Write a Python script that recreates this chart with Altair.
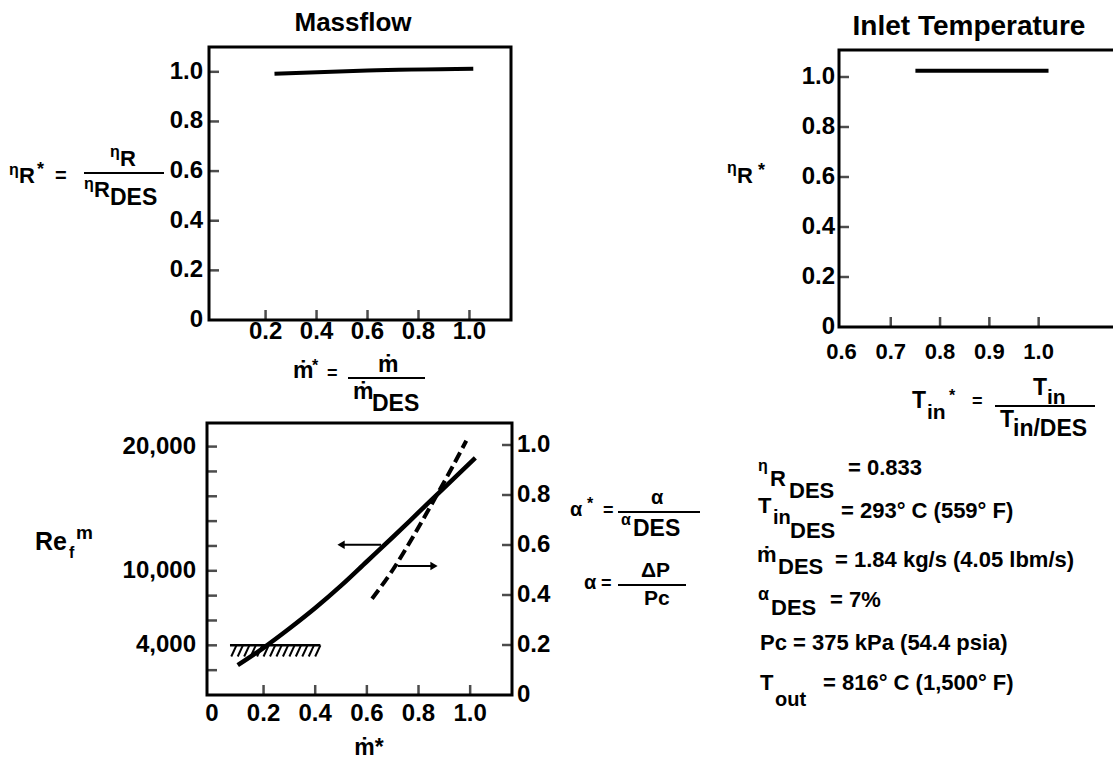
import altair as alt
import pandas as pd

FONT = "Liberation Sans"
W, H = 1113, 767

# ---------------- data ----------------
# Massflow panel: eta_R* vs m_dot*
MF_MDOT = [0.235, 0.6, 1.015]
MF_ETA = [0.992, 1.005, 1.012]
# Inlet temperature panel: eta_R* vs T_in*
IT_T = [0.75, 1.02]
IT_ETA = [1.025, 1.025]
# Bottom panel: Re_f^m (left axis) and alpha* (right axis) vs m_dot*
RE_MDOT = [0.10, 0.20, 0.30, 0.40, 0.50, 0.60, 0.70, 0.80, 0.90, 1.02]
RE_VAL = [2400, 3800, 5350, 7000, 8800, 10750, 12700, 14700, 16700, 19100]
AL_MDOT = [0.62, 0.70, 0.78, 0.86, 0.93, 0.985]
AL_VAL = [0.385, 0.50, 0.635, 0.78, 0.91, 1.017]
RE_LIMIT = 4000
RE_LIMIT_SPAN = [0.07, 0.42]
HATCH_X = [0.095, 0.12, 0.145, 0.17, 0.195, 0.22, 0.245, 0.27, 0.295, 0.32, 0.345, 0.37, 0.395, 0.42]
ARROW_RE = [0.655, 0.50, 12100]      # from, to (head), Re level
ARROW_AL = [0.72, 0.86, 0.516]       # from, to (head), alpha* level

# tick values and tick labels
MF_X_TICKS = [0.2, 0.4, 0.6, 0.8, 1.0]
MF_X_LABELS = ["0.2", "0.4", "0.6", "0.8", "1.0"]
ETA_TICKS = [0, 0.2, 0.4, 0.6, 0.8, 1.0]
ETA_LABELS = ["0", "0.2", "0.4", "0.6", "0.8", "1.0"]
ETA_MARKS = [0.2, 0.4, 0.6, 0.8, 1.0]
IT_X_TICKS = [0.6, 0.7, 0.8, 0.9, 1.0]
IT_X_LABELS = ["0.6", "0.7", "0.8", "0.9", "1.0"]
IT_X_MARKS = [0.7, 0.8, 0.9, 1.0]
BOT_X_TICKS = [0, 0.2, 0.4, 0.6, 0.8, 1.0]
BOT_X_LABELS = ["0", "0.2", "0.4", "0.6", "0.8", "1.0"]
BOT_X_MARKS = [0.2, 0.4, 0.6, 0.8, 1.0]
RE_TICKS = [4000, 10000, 20000]
RE_LABELS = ["4,000", "10,000", "20,000"]
RE_MARKS = [2000, 4000, 6000, 8000, 10000, 12000, 14000, 16000, 18000, 20000]
AL_TICKS = [0, 0.2, 0.4, 0.6, 0.8, 1.0]
AL_LABELS = ["0", "0.2", "0.4", "0.6", "0.8", "1.0"]
AL_MARKS = [0.2, 0.4, 0.6, 0.8, 1.0]

# ---------------- scales (domain -> pixel range on the page) ----------------
A_XD, A_YD = [-0.022, 1.163], [0, 1.10]
B_XD, B_YD = [0.595, 1.165], [0, 1.108]
C_XD, C_YLD, C_YRD = [-0.019, 1.162], [0, 21900], [0, 1.088]

SA_X = alt.Scale(domain=A_XD, range=[209, 511], nice=False, zero=False)
SA_Y = alt.Scale(domain=A_YD, range=[320, 47], nice=False, zero=False)
SB_X = alt.Scale(domain=B_XD, range=[839, 1120], nice=False, zero=False)
SB_Y = alt.Scale(domain=B_YD, range=[327, 50], nice=False, zero=False)
SC_X = alt.Scale(domain=C_XD, range=[207, 512], nice=False, zero=False)
SC_YL = alt.Scale(domain=C_YLD, range=[695, 423], nice=False, zero=False)
SC_YR = alt.Scale(domain=C_YRD, range=[695, 423], nice=False, zero=False)

ONE = pd.DataFrame({"k": [0]})
INK = "black"


def lbl(size=24):
    return dict(font=FONT, fontWeight="bold", fontSize=size, color=INK, baseline="middle")


def frame(sx, sy, xd, yd):
    return alt.Chart(ONE).mark_rect(filled=False, stroke=INK, strokeWidth=3).encode(
        x=alt.XDatum(xd[0], scale=sx, axis=None), x2=alt.X2Datum(xd[1]),
        y=alt.YDatum(yd[0], scale=sy, axis=None), y2=alt.Y2Datum(yd[1]))


def xticks(vals, sx, sy, y0):
    return alt.Chart(pd.DataFrame({"v": vals})).mark_tick(
        orient="vertical", size=10, thickness=2.5, yOffset=-5, color=INK).encode(
        x=alt.X("v:Q", scale=sx, axis=None), y=alt.YDatum(y0, scale=sy, axis=None))


def yticks(vals, sx, sy, x0, off):
    return alt.Chart(pd.DataFrame({"v": vals})).mark_tick(
        orient="horizontal", size=10, thickness=2.5, xOffset=off, color=INK).encode(
        y=alt.Y("v:Q", scale=sy, axis=None), x=alt.XDatum(x0, scale=sx, axis=None))


def xlabels(vals, labels, sx, sy, y0, dy, size=24):
    return alt.Chart(pd.DataFrame({"v": vals, "l": labels})).mark_text(
        align="center", dy=dy, **lbl(size)).encode(
        x=alt.X("v:Q", scale=sx, axis=None), y=alt.YDatum(y0, scale=sy, axis=None),
        text="l:N")


def ylabels(vals, labels, sx, sy, x0, dx, align="right", size=24):
    return alt.Chart(pd.DataFrame({"v": vals, "l": labels})).mark_text(
        align=align, dx=dx, **lbl(size)).encode(
        y=alt.Y("v:Q", scale=sy, axis=None), x=alt.XDatum(x0, scale=sx, axis=None),
        text="l:N")


# ---------------- Panel A: Massflow ----------------
a_line = alt.Chart(pd.DataFrame({"m": MF_MDOT, "e": MF_ETA})).mark_line(
    color=INK, strokeWidth=4, interpolate="monotone").encode(
    x=alt.X("m:Q", scale=SA_X, axis=None),
    y=alt.Y("e:Q", scale=SA_Y, axis=None))
panelA = alt.layer(frame(SA_X, SA_Y, A_XD, A_YD), a_line,
                   xticks(MF_X_TICKS, SA_X, SA_Y, 0),
                   yticks(ETA_MARKS, SA_X, SA_Y, A_XD[0], 5),
                   xlabels(MF_X_TICKS, MF_X_LABELS, SA_X, SA_Y, 0, 12),
                   ylabels(ETA_TICKS, ETA_LABELS, SA_X, SA_Y, A_XD[0], -6))

# ---------------- Panel B: Inlet Temperature ----------------
b_line = alt.Chart(pd.DataFrame({"t": IT_T, "e": IT_ETA})).mark_line(
    color=INK, strokeWidth=4).encode(
    x=alt.X("t:Q", scale=SB_X, axis=None),
    y=alt.Y("e:Q", scale=SB_Y, axis=None))
panelB = alt.layer(frame(SB_X, SB_Y, B_XD, B_YD), b_line,
                   xticks(IT_X_MARKS, SB_X, SB_Y, 0),
                   yticks(ETA_MARKS, SB_X, SB_Y, B_XD[0], 5),
                   xlabels(IT_X_TICKS, IT_X_LABELS, SB_X, SB_Y, 0, 25, 22),
                   ylabels(ETA_TICKS, ETA_LABELS, SB_X, SB_Y, B_XD[0], -4))

# ---------------- Panel C: Reynolds number / pressure drop ----------------
c_re = alt.Chart(pd.DataFrame({"m": RE_MDOT, "re": RE_VAL})).mark_line(
    color=INK, strokeWidth=4.5, interpolate="monotone").encode(
    x=alt.X("m:Q", scale=SC_X, axis=None),
    y=alt.Y("re:Q", scale=SC_YL, axis=None))
c_limit = alt.Chart(ONE).mark_rule(color=INK, strokeWidth=2.5).encode(
    x=alt.XDatum(RE_LIMIT_SPAN[0], scale=SC_X, axis=None), x2=alt.X2Datum(RE_LIMIT_SPAN[1]),
    y=alt.YDatum(RE_LIMIT, scale=SC_YL, axis=None))
c_hatch = alt.Chart(pd.DataFrame({"hx": HATCH_X})).transform_calculate(
    hx2="datum.hx - 0.02").mark_rule(color=INK, strokeWidth=2).encode(
    x=alt.X("hx:Q", scale=SC_X, axis=None), x2=alt.X2("hx2:Q"),
    y=alt.YDatum(RE_LIMIT, scale=SC_YL, axis=None), y2=alt.Y2Datum(RE_LIMIT - 900))
c_arr1 = alt.Chart(ONE).mark_rule(color=INK, strokeWidth=2).encode(
    x=alt.XDatum(ARROW_RE[0], scale=SC_X, axis=None), x2=alt.X2Datum(ARROW_RE[1]),
    y=alt.YDatum(ARROW_RE[2], scale=SC_YL, axis=None))
c_head1 = alt.Chart(ONE).mark_point(shape="triangle-left", filled=True, size=70, color=INK, opacity=1).encode(
    x=alt.XDatum(ARROW_RE[1], scale=SC_X, axis=None),
    y=alt.YDatum(ARROW_RE[2], scale=SC_YL, axis=None))
c_left = alt.layer(frame(SC_X, SC_YL, C_XD, C_YLD), c_re, c_limit, c_hatch, c_arr1, c_head1,
                   xticks(BOT_X_MARKS, SC_X, SC_YL, 0),
                   yticks(RE_MARKS, SC_X, SC_YL, C_XD[0], 5),
                   xlabels(BOT_X_TICKS, BOT_X_LABELS, SC_X, SC_YL, 0, 19),
                   ylabels(RE_TICKS, RE_LABELS, SC_X, SC_YL, C_XD[0], -11))

c_al = alt.Chart(pd.DataFrame({"m": AL_MDOT, "a": AL_VAL})).mark_line(
    color=INK, strokeWidth=4, strokeDash=[11, 5], interpolate="monotone").encode(
    x=alt.X("m:Q", scale=SC_X, axis=None),
    y=alt.Y("a:Q", scale=SC_YR, axis=None))
c_arr2 = alt.Chart(ONE).mark_rule(color=INK, strokeWidth=2).encode(
    x=alt.XDatum(ARROW_AL[0], scale=SC_X, axis=None), x2=alt.X2Datum(ARROW_AL[1]),
    y=alt.YDatum(ARROW_AL[2], scale=SC_YR, axis=None))
c_head2 = alt.Chart(ONE).mark_point(shape="triangle-right", filled=True, size=70, color=INK, opacity=1).encode(
    x=alt.XDatum(ARROW_AL[1], scale=SC_X, axis=None),
    y=alt.YDatum(ARROW_AL[2], scale=SC_YR, axis=None))
c_right = alt.layer(c_al, c_arr2, c_head2,
                    yticks(AL_MARKS, SC_X, SC_YR, C_XD[1], -5),
                    ylabels(AL_TICKS, AL_LABELS, SC_X, SC_YR, C_XD[1], 5, "left"))
panelC = alt.layer(c_left, c_right).resolve_scale(y="independent")

# ---------------- text annotations ----------------
ANN = []


def txt(s, x, y, size=22, align="left", weight="bold"):
    ANN.append(alt.Chart(pd.DataFrame({"t": [s]})).mark_text(
        align=align, baseline="middle", fontSize=size, fontWeight=weight,
        font=FONT, color=INK).encode(x=alt.value(x), y=alt.value(y), text="t:N"))


def bar(x1, x2, y, w=2):
    ANN.append(alt.Chart(ONE).mark_rule(color=INK, strokeWidth=w).encode(
        x=alt.value(x1), x2=alt.value(x2), y=alt.value(y)))


# titles
txt("Massflow", 353, 23, 26, "center")
txt("Inlet Temperature", 969, 27, 28, "center")

# panel A y title: eta_R* = eta_R / eta_R,DES
txt("η", 9, 170, 16)
txt("R", 19, 176, 22)
txt("*", 37, 170, 18)
txt("=", 55, 176, 20)
txt("η", 110, 152, 16)
txt("R", 120, 159, 22)
bar(84, 164, 173)
txt("η", 84, 184, 16)
txt("R", 94, 190, 22)
txt("DES", 110, 198, 23)

# panel A x title: m* = m / m_DES
txt("ṁ", 293, 371, 23)
txt("*", 312, 366, 16)
txt("=", 327, 374, 18)
txt("ṁ", 378, 365, 23)
bar(348, 425, 378)
txt("ṁ", 353, 392, 23)
txt("DES", 372, 404, 23)

# panel B titles
txt("η", 727, 168, 16)
txt("R", 737, 176, 22)
txt("*", 758, 171, 18)
txt("T", 912, 401, 23)
txt("in", 927, 413, 21)
txt("*", 949, 396, 16)
txt("=", 972, 402, 18)
txt("T", 1033, 388, 23)
txt("in", 1047, 398, 21)
bar(995, 1095, 406)
txt("T", 1000, 420, 23)
txt("in/DES", 1013, 429, 23)

# panel C titles
txt("Re", 35, 542, 25)
txt("f", 69, 553, 16)
txt("m", 76, 533, 19)
txt("ṁ*", 369, 748, 23, "center")
txt("α", 570, 510, 20)
txt("*", 587, 504, 16)
txt("=", 603, 511, 18)
txt("α", 651, 498, 20)
bar(618, 700, 512)
txt("α", 621, 520, 16)
txt("DES", 633, 529, 23)
txt("α", 584, 583, 20)
txt("=", 601, 584, 18)
txt("ΔP", 641, 571, 21)
bar(618, 686, 585)
txt("Pc", 644, 599, 21)

# design-point block
txt("η", 758, 466, 16)
txt("R", 770, 479, 22)
txt("DES", 789, 491, 22)
txt("= 0.833", 848, 468, 22)
txt("T", 758, 506, 22)
txt("in", 773, 518, 20)
txt("DES", 790, 531, 22)
txt("= 293° C (559° F)", 841, 511, 22)
txt("ṁ", 757, 555, 22)
txt("DES", 778, 567, 22)
txt("= 1.84 kg/s (4.05 lbm/s)", 835, 560, 22)
txt("α", 758, 595, 18)
txt("DES", 771, 608, 22)
txt("= 7%", 830, 600, 22)
txt("Pc = 375 kPa (54.4 psia)", 760, 643, 22)
txt("T", 760, 683, 22)
txt("out", 775, 700, 20)
txt("= 816° C (1,500° F)", 823, 683, 22)

chart = alt.layer(panelA, panelB, panelC, *ANN).resolve_scale(
    x="independent", y="independent").properties(
    width=W, height=H, padding=0, background="white",
    autosize=alt.AutoSizeParams(type="none")).configure_view(stroke=None)

chart.save("out.html", embed_options={"renderer": "svg", "actions": False})
